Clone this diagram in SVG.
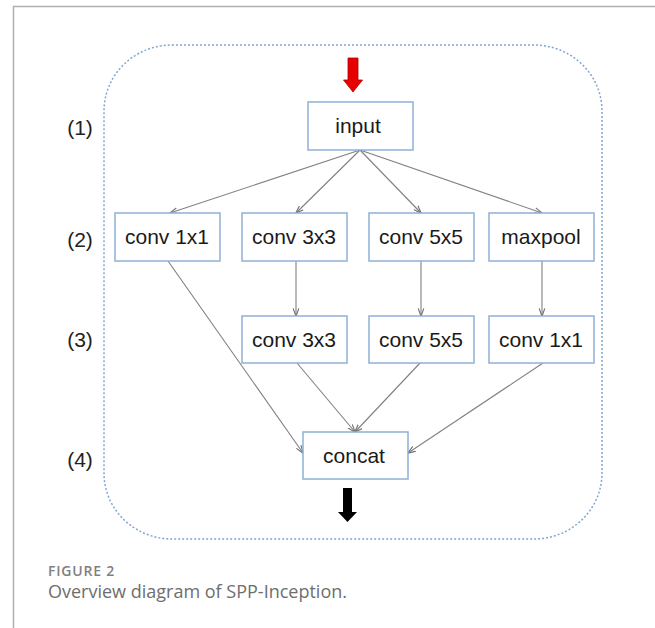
<svg xmlns="http://www.w3.org/2000/svg" width="655" height="628" viewBox="0 0 655 628">
  <style>
    .box rect { fill: #ffffff; stroke: #8fb0d6; stroke-width: 1.5; }
    .box text { font-family: "Liberation Sans", Arial, sans-serif; font-size: 21px; fill: #1a1a1a; text-anchor: middle; }
    .row { font-family: "Liberation Sans", Arial, sans-serif; font-size: 21px; fill: #222222; text-anchor: middle; }
    .edge { stroke: #808080; stroke-width: 1.1; fill: none; marker-end: url(#tip); }
    .caption-head { font-family: "Open Sans", "Liberation Sans", sans-serif; font-size: 14px; font-weight: 600; letter-spacing: 0.8px; fill: #808080; }
    .caption { font-family: "Open Sans", "Liberation Sans", sans-serif; font-size: 18px; fill: #6e6e6e; }
  </style>
  <defs>
    <marker id="tip" viewBox="0 0 10 10" refX="9.5" refY="5" markerWidth="8" markerHeight="8" markerUnits="userSpaceOnUse" orient="auto">
      <path d="M0,1.5 L10,5 L0,8.5" fill="none" stroke="#707070" stroke-width="1.4"/>
    </marker>
  </defs>

  <rect width="655" height="628" fill="#ffffff"/>

  <!-- page frame -->
  <path d="M13.5,628 L13.5,6.5 L655,6.5" fill="none" stroke="#b0b0b0" stroke-width="1.5"/>

  <!-- module boundary -->
  <rect x="104" y="45" width="498" height="494" rx="68" ry="66" fill="none" stroke="#7fa6d2" stroke-width="1.5" stroke-dasharray="2 2"/>

  <!-- stage labels -->
  <g id="stage-labels">
    <text class="row" x="80" y="135">(1)</text>
    <text class="row" x="80" y="247">(2)</text>
    <text class="row" x="80" y="347">(3)</text>
    <text class="row" x="80" y="467">(4)</text>
  </g>

  <!-- input / output flow arrows -->
  <path id="in-arrow" d="M348,58 L358,58 L358,80 L362.5,80 L353,92 L343.5,80 L348,80 Z" fill="#e60000" stroke="#b00000" stroke-width="0.8"/>
  <path id="out-arrow" d="M343,488 L352,488 L352,512 L357,512 L347.5,522 L338,512 L343,512 Z" fill="#000000"/>

  <!-- connectors -->
  <g id="connectors">
    <line class="edge" x1="360" y1="150" x2="170" y2="213"/>
    <line class="edge" x1="360" y1="150" x2="296" y2="213"/>
    <line class="edge" x1="360" y1="150" x2="421" y2="213"/>
    <line class="edge" x1="360" y1="150" x2="542" y2="213"/>
    <line class="edge" x1="296" y1="261" x2="296" y2="316"/>
    <line class="edge" x1="421" y1="261" x2="421" y2="316"/>
    <line class="edge" x1="542" y1="261" x2="542" y2="316"/>
    <line class="edge" x1="168" y1="261" x2="303" y2="453"/>
    <line class="edge" x1="297" y1="363" x2="355" y2="432"/>
    <line class="edge" x1="420" y1="363" x2="355" y2="432"/>
    <line class="edge" x1="543" y1="363" x2="408" y2="453"/>
  </g>

  <!-- nodes -->
  <g id="input" class="box">
    <rect x="308" y="102" width="105" height="48"/>
    <text x="358" y="133">input</text>
  </g>
  <g id="conv1x1-a" class="box">
    <rect x="115" y="213" width="105" height="48"/>
    <text x="167" y="244">conv 1x1</text>
  </g>
  <g id="conv3x3-a" class="box">
    <rect x="242" y="213" width="105" height="48"/>
    <text x="294" y="244">conv 3x3</text>
  </g>
  <g id="conv5x5-a" class="box">
    <rect x="369" y="213" width="105" height="48"/>
    <text x="421" y="244">conv 5x5</text>
  </g>
  <g id="maxpool" class="box">
    <rect x="489" y="213" width="105" height="48"/>
    <text x="541" y="244">maxpool</text>
  </g>
  <g id="conv3x3-b" class="box">
    <rect x="242" y="316" width="105" height="47"/>
    <text x="294" y="347">conv 3x3</text>
  </g>
  <g id="conv5x5-b" class="box">
    <rect x="369" y="316" width="105" height="47"/>
    <text x="421" y="347">conv 5x5</text>
  </g>
  <g id="conv1x1-b" class="box">
    <rect x="489" y="316" width="105" height="47"/>
    <text x="541" y="347">conv 1x1</text>
  </g>
  <g id="concat" class="box">
    <rect x="303" y="432" width="105" height="47"/>
    <text x="354" y="463">concat</text>
  </g>

  <!-- caption -->
  <text class="caption-head" x="48" y="576">FIGURE 2</text>
  <text class="caption" x="48" y="598">Overview diagram of SPP-Inception.</text>
</svg>
